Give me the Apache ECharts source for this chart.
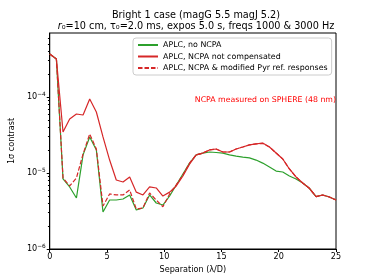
<!DOCTYPE html>
<html><head><meta charset="utf-8">
<script src="https://cdn.jsdelivr.net/npm/echarts@6/dist/echarts.min.js"></script>
<style>html,body{margin:0;padding:0;background:#fff}#c{width:374px;height:280px}</style>
</head><body><div id="c"></div>
<script>
const separation = [0.00,0.58,1.16,1.74,2.33,2.91,3.49,4.07,4.65,5.23,5.81,6.40,6.98,7.56,8.14,8.72,9.30,9.88,10.47,11.05,11.63,12.21,12.79,13.37,13.95,14.53,15.12,15.70,16.28,16.86,17.44,18.02,18.60,19.19,19.77,20.35,20.93,21.51,22.09,22.67,23.26,23.84,24.42,25.00];
const noNcpa = [3.68e-4,3.16e-4,8.34e-6,6.55e-6,4.69e-6,1.73e-5,2.98e-5,2.01e-5,3.07e-6,4.41e-6,4.41e-6,4.55e-6,5.14e-6,3.26e-6,3.46e-6,5.14e-6,4.03e-6,3.79e-6,4.98e-6,6.95e-6,9.70e-6,1.35e-5,1.73e-5,1.83e-5,1.89e-5,1.86e-5,1.83e-5,1.73e-5,1.67e-5,1.62e-5,1.58e-5,1.48e-5,1.35e-5,1.20e-5,1.06e-5,1.03e-5,9.14e-6,8.34e-6,7.38e-6,6.30e-6,4.90e-6,5.14e-6,4.83e-6,4.41e-6];
const ncpaNotComp = [3.68e-4,3.16e-4,3.46e-5,5.14e-5,5.97e-5,5.80e-5,9.41e-5,6.35e-5,2.98e-5,1.48e-5,8.09e-6,7.62e-6,8.86e-6,5.60e-6,5.14e-6,6.55e-6,6.35e-6,4.98e-6,5.60e-6,6.75e-6,9.14e-6,1.31e-5,1.73e-5,1.83e-5,2.01e-5,2.07e-5,1.89e-5,1.89e-5,2.07e-5,2.20e-5,2.34e-5,2.41e-5,2.48e-5,2.20e-5,1.83e-5,1.53e-5,1.13e-5,8.86e-6,7.38e-6,6.30e-6,4.90e-6,5.14e-6,4.83e-6,4.41e-6];
const ncpaModified = [3.68e-4,3.16e-4,8.59e-6,6.75e-6,8.59e-6,1.78e-5,3.26e-5,2.07e-5,3.68e-6,5.30e-6,5.14e-6,5.14e-6,5.97e-6,3.36e-6,3.47e-6,5.46e-6,4.41e-6,3.60e-6,5.30e-6,7.00e-6,9.40e-6,1.35e-5,1.73e-5,1.83e-5,2.01e-5,2.07e-5,1.89e-5,1.89e-5,2.07e-5,2.20e-5,2.34e-5,2.41e-5,2.45e-5,2.20e-5,1.83e-5,1.53e-5,1.13e-5,8.86e-6,7.38e-6,6.30e-6,4.90e-6,5.14e-6,4.83e-6,4.41e-6];
const seriesNames = ['APLC, no NCPA','APLC, NCPA not compensated','APLC, NCPA & modified Pyr ref. responses'];
const xTicks = [0,5,10,15,20,25];
const yMajorTicks = [1e-6,1e-5,1e-4];
const yMinorTicks = [2e-6,3e-6,4e-6,5e-6,6e-6,7e-6,8e-6,9e-6,2e-5,3e-5,4e-5,5e-5,6e-5,7e-5,8e-5,9e-5,2e-4,3e-4,4e-4,5e-4,6e-4];

const F = 'DejaVu Sans';
const pair = arr => arr.map((v,i)=>[separation[i], v]);
const chart = echarts.init(document.getElementById('c'), null, {renderer:'canvas'});
const yBase = {type:'log', logBase:10, min:1e-6, max:6.95e-4, gridIndex:0};
chart.setOption({
  animation:false,
  backgroundColor:'#fff',
  textStyle:{fontFamily:F},
  title:[
    {text:'Bright 1 case (magG 5.5 magJ 5.2)', left:191, top:5, textAlign:'center',
     textStyle:{fontFamily:F, fontSize:9.7, fontWeight:'normal', color:'#000'}},
    {text:'{it|r}₀=10 cm, τ₀=2.0 ms, expos 5.0 s, freqs 1000 & 3000 Hz', left:191, top:16, textAlign:'center',
     textStyle:{fontFamily:F, fontSize:9.7, fontWeight:'normal', color:'#000',
       rich:{it:{fontFamily:F, fontSize:9.7, fontStyle:'italic', color:'#000'}}}},
    {text:'NCPA measured on SPHERE (48 nm)', right:38, top:96,
     textStyle:{fontFamily:F, fontSize:7.8, fontWeight:'normal', color:'#ff0000'}, padding:0}
  ],
  grid:{left:46, right:38, top:33, bottom:31, show:true, borderColor:'#000', borderWidth:1, backgroundColor:'transparent'},
  legend:{
    data:seriesNames, orient:'vertical', left:133, top:38,
    icon:'inherit', itemStyle:{opacity:0},
    backgroundColor:'#fff', borderColor:'#ccc', borderWidth:1, borderRadius:3,
    padding:[3,4,3,4], itemGap:3.5, itemWidth:20, itemHeight:8,
    textStyle:{fontFamily:F, fontSize:7.9, color:'#000'}
  },
  xAxis:{type:'value', min:0, max:25, interval:5,
    axisLine:{show:true, lineStyle:{color:'#000', width:1}},
    axisTick:{show:true, inside:false, length:3, lineStyle:{color:'#000'}},
    axisLabel:{fontFamily:F, fontSize:8.1, color:'#000', margin:4},
    splitLine:{show:false},
    name:'Separation (λ/D)', nameLocation:'middle', nameGap:17,
    nameTextStyle:{fontFamily:F, fontSize:8.1, color:'#000'}
  },
  yAxis:[
    Object.assign({}, yBase, {
      axisLine:{show:true, lineStyle:{color:'#000', width:1}},
      axisTick:{show:true, length:3, customValues:yMajorTicks, lineStyle:{color:'#000'}},
      axisLabel:{customValues:yMajorTicks, margin:4, fontFamily:F, fontSize:8.1, color:'#000',
        formatter:v=>{const e=Math.round(Math.log10(v)); return '10{sup|'+String(e).replace('-','−')+'}';},
        rich:{sup:{fontFamily:F, fontSize:5.8, color:'#000', padding:[0,0,6,0]}}},
      splitLine:{show:false}, minorTick:{show:false},
      name:'1σ contrast', nameLocation:'middle', nameGap:29,
      nameTextStyle:{fontFamily:F, fontSize:8.1, color:'#000'}
    }),
    Object.assign({}, yBase, {
      axisLine:{show:false},
      axisTick:{show:true, length:1.8, customValues:yMinorTicks, lineStyle:{color:'#000'}},
      axisLabel:{show:false}, splitLine:{show:false}, position:'left'
    })
  ],
  series:[
    {name:seriesNames[0], type:'line', data:pair(noNcpa), symbol:'none', yAxisIndex:0,
     lineStyle:{color:'#2ca02c', width:1.2}, itemStyle:{color:'#2ca02c'}, z:2},
    {name:seriesNames[1], type:'line', data:pair(ncpaNotComp), symbol:'none', yAxisIndex:0,
     lineStyle:{color:'#d62728', width:1.2}, itemStyle:{color:'#d62728'}, z:3},
    {name:seriesNames[2], type:'line', data:pair(ncpaModified), symbol:'none', yAxisIndex:0,
     lineStyle:{color:'#d62728', width:1.2, type:[4.5,2]}, itemStyle:{color:'#d62728'}, z:4}
  ]
});
</script></body></html>
